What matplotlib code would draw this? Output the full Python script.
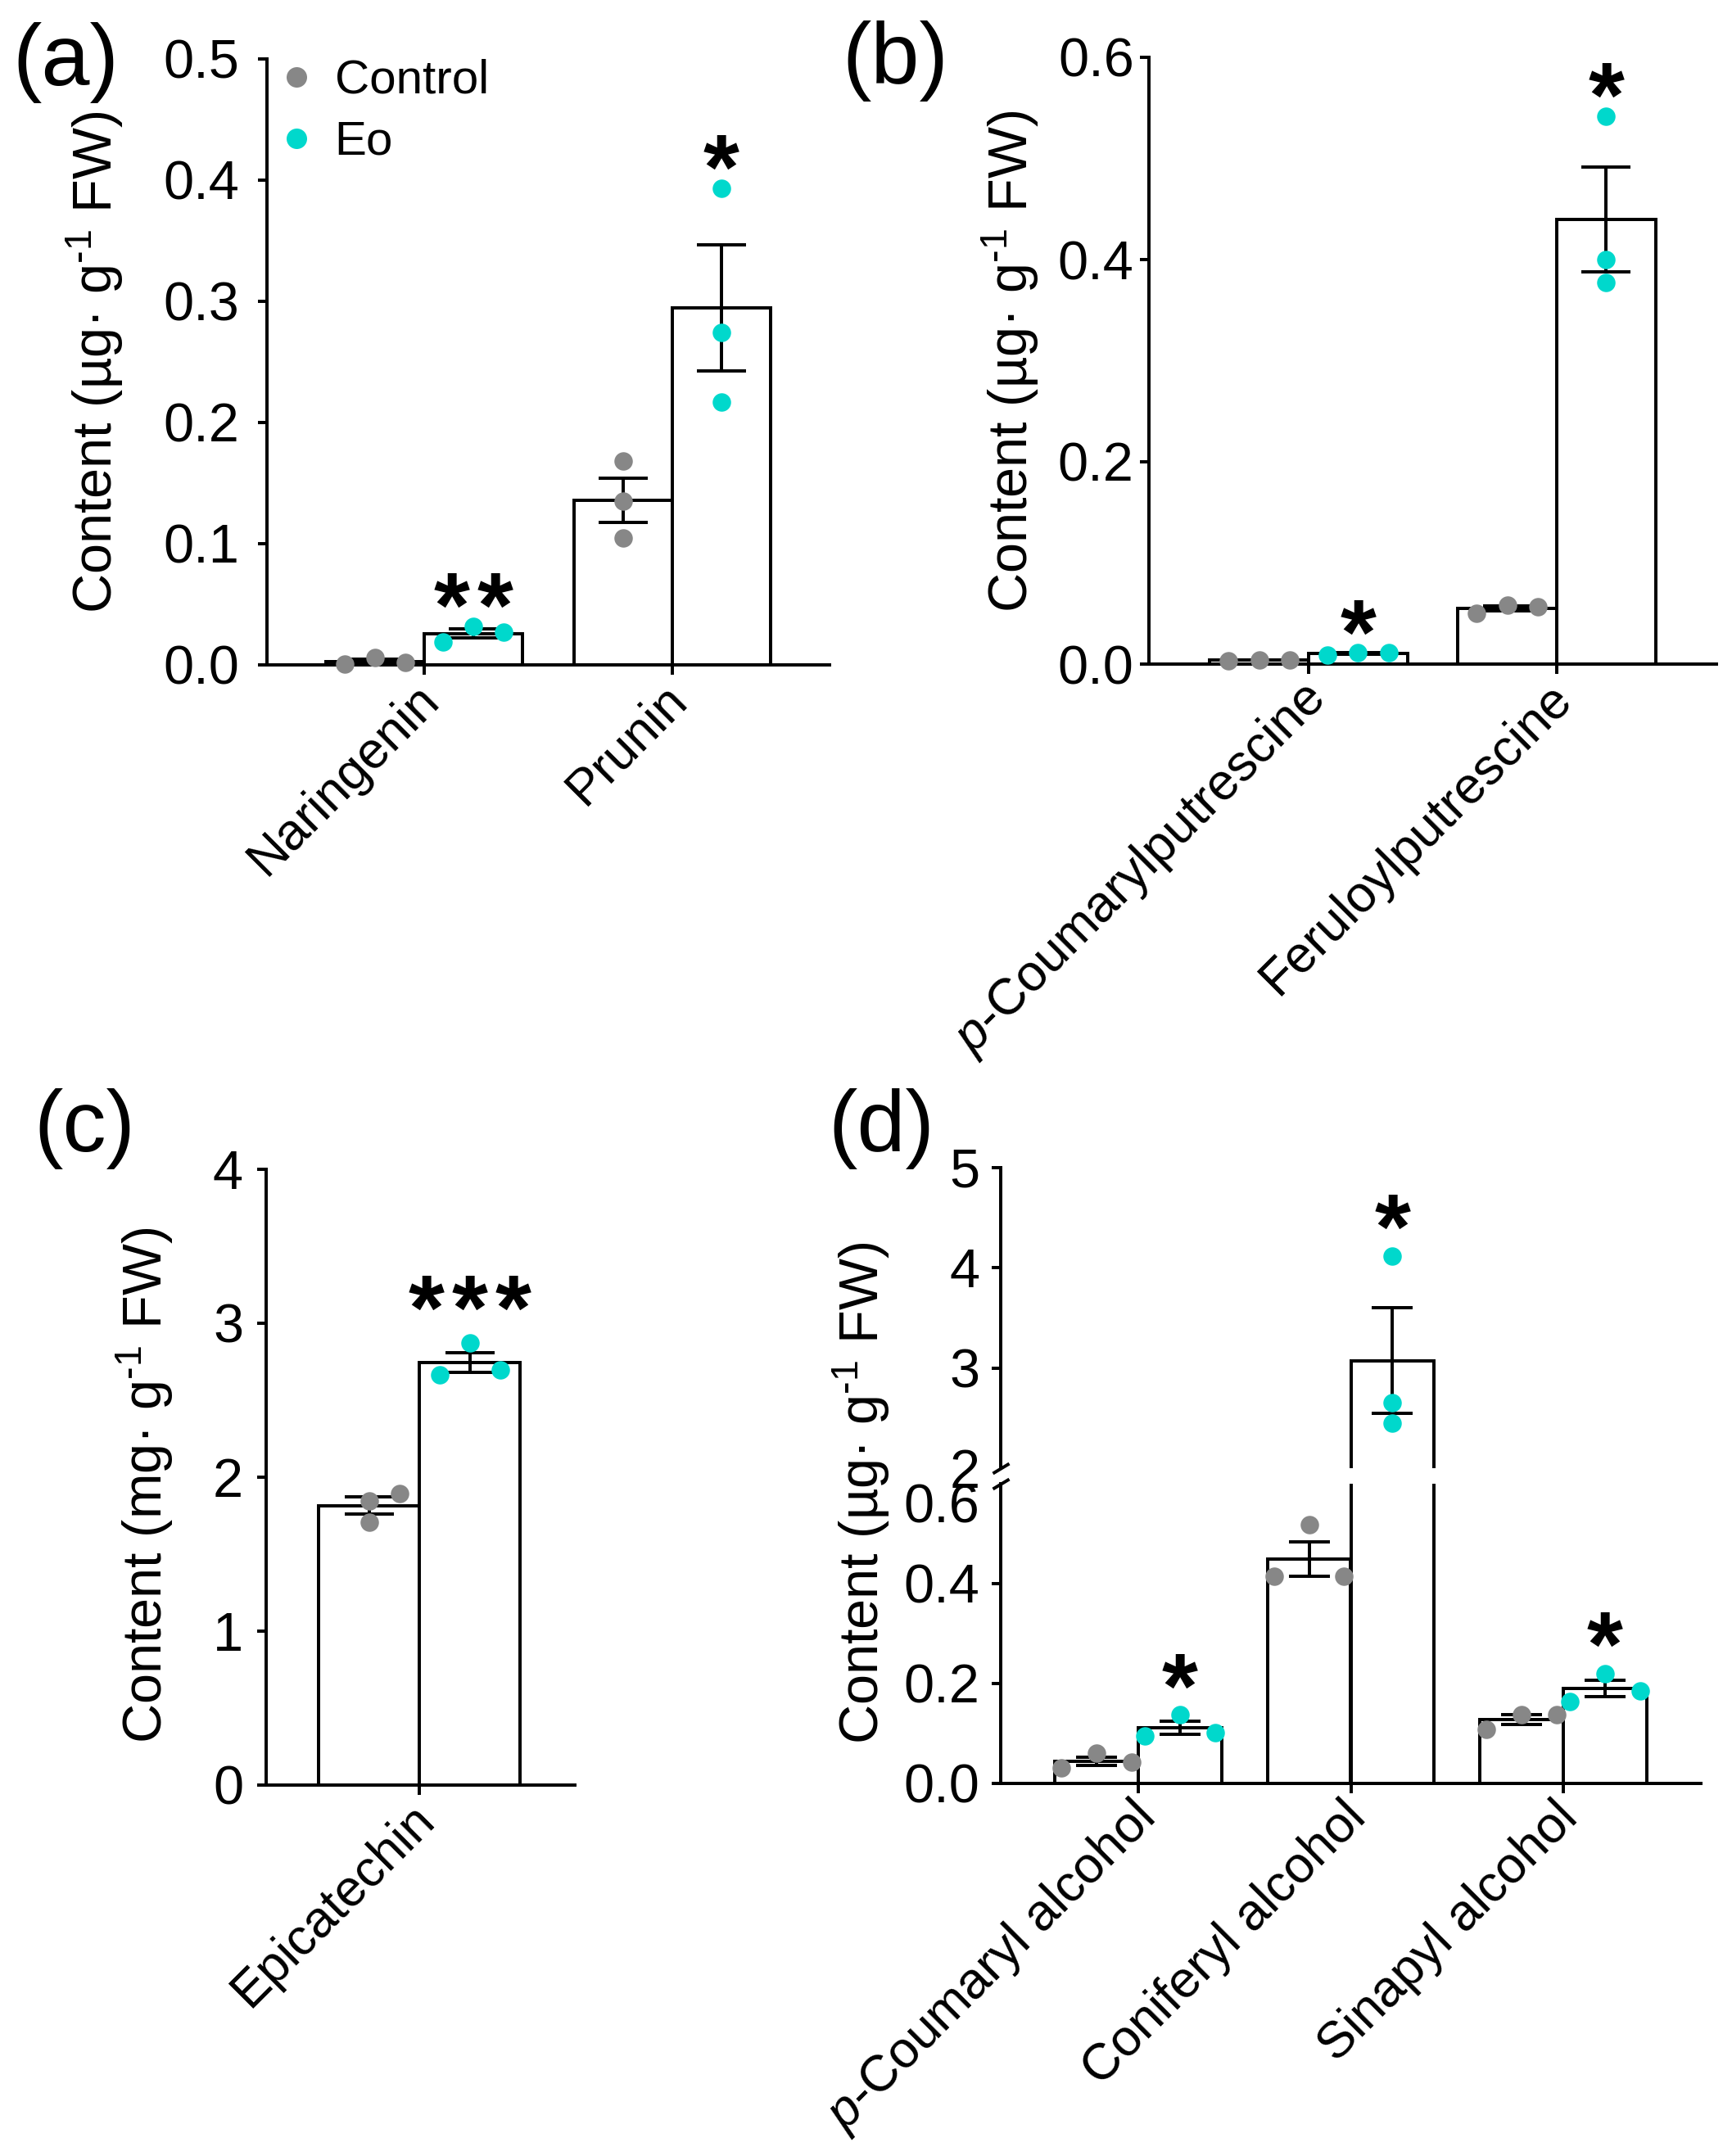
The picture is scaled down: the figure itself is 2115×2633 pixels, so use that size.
import matplotlib
matplotlib.use('Agg')
import matplotlib.pyplot as plt
from matplotlib.lines import Line2D
from matplotlib.transforms import ScaledTranslation
import numpy as np

plt.rcParams['font.family'] = ['Liberation Sans', 'DejaVu Sans']
plt.rcParams['mathtext.fontset'] = 'custom'
plt.rcParams['mathtext.rm'] = 'Liberation Sans'
plt.rcParams['mathtext.it'] = 'Liberation Sans:italic'
plt.rcParams['mathtext.bf'] = 'Liberation Sans:bold'

GREY = '#878787'
CYAN = '#00D8CC'

# ---- data (3 replicates per bar) ----
# (a)
a_names = ['Naringenin', 'Prunin']
a_ctrl = [[0.001, 0.006, 0.002], [0.168, 0.135, 0.105]]
a_eo = [[0.019, 0.032, 0.027], [0.393, 0.274, 0.217]]
a_ctrl_jit = [[-1, 0, 1], [0, 0, 0]]
a_eo_jit = [[-1, 0, 1], [0, 0, 0]]
a_sig = ['**', '*']

# (b)
b_names = [r'$\it{p}$-Coumarylputrescine', 'Feruloylputrescine']
b_ctrl = [[0.0035, 0.004, 0.0042], [0.050, 0.058, 0.057]]
b_eo = [[0.009, 0.011, 0.011], [0.542, 0.400, 0.377]]
b_ctrl_jit = [[-1, 0, 1], [-1, 0, 1]]
b_eo_jit = [[-1, 0, 1], [0, 0, 0]]
b_sig = ['*', '*']

# (c)
c_names = ['Epicatechin']
c_ctrl = [[1.844, 1.708, 1.894]]
c_eo = [[2.667, 2.870, 2.698]]
c_ctrl_jit = [[0, 0, 1]]
c_eo_jit = [[-1, 0, 1]]
c_sig = ['***']

# (d)
d_names = [r'$\it{p}$-Coumaryl alcohol', 'Coniferyl alcohol', 'Sinapyl alcohol']
d_ctrl = [[0.031, 0.060, 0.042], [0.415, 0.518, 0.415], [0.109, 0.137, 0.137]]
d_eo = [[0.095, 0.137, 0.102], [4.118, 2.653, 2.451], [0.164, 0.220, 0.185]]
d_ctrl_jit = [[-1, 0, 1], [-1, 0, 1], [-1, 0, 1]]
d_eo_jit = [[-1, 0, 1], [0, 0, 0], [-1, 0, 1]]
d_sig = ['*', '*', '*']

W, H = 2115, 2633
fig = plt.figure(figsize=(W / 300, H / 300), dpi=300)


def rect(l, r, t, b):
    return [l / W, 1 - b / H, (r - l) / W, (b - t) / H]


def style(ax, yticks, ylim, labels, pad=3.5):
    ax.spines[['top', 'right']].set_visible(False)
    for s in ['left', 'bottom']:
        ax.spines[s].set_linewidth(0.95)
    ax.set_ylim(*ylim)
    ax.set_yticks(yticks)
    ax.set_yticklabels(labels)
    ax.tick_params(axis='y', width=0.95, length=2.7, labelsize=16, pad=pad)
    ax.tick_params(axis='x', width=0.95, length=2.9, labelsize=15, pad=0)
    # nudge the slanted category names a bit to the left, like Prism does
    shift = ScaledTranslation(-2.9 / 72, 0, fig.dpi_scale_trans)
    for lab in ax.get_xticklabels():
        lab.set_transform(lab.get_transform() + shift)


def stars(ax, txt, x, y, dy):
    # Prism spreads the asterisks a little wider than the font does
    n = len(txt)
    for k in range(n):
        ax.annotate('*', xy=(x, y), xytext=((k - (n - 1) / 2) * 12.7, dy),
                    textcoords='offset points', ha='center', va='baseline',
                    fontsize=27, fontweight='bold', zorder=5)


def draw(ax, names, ctrl, eo, cjit, ejit, sig, gap, jit, cap, clip=False,
         star_ax=None, star_dy=-3.1):
    centers = np.arange(len(names)) * gap
    for i, c in enumerate(centers):
        for vals, jj, dx, col in ((ctrl[i], cjit[i], -0.5, GREY), (eo[i], ejit[i], 0.5, CYAN)):
            v = np.array(vals)
            m = v.mean()
            se = v.std(ddof=1) / np.sqrt(len(v))
            ax.bar(c + dx, m, width=1.0, color='white', edgecolor='black',
                   linewidth=0.95, zorder=2)
            ax.errorbar(c + dx, m, yerr=se, fmt='none', ecolor='black',
                        elinewidth=0.95, capsize=cap, capthick=0.95, zorder=3)
            ax.plot(c + dx + jit * np.array(jj), v, 'o', color=col, ms=5.4,
                    mew=0, zorder=4, clip_on=clip)
            if dx > 0 and sig[i]:
                top = max(v.max(), m + se)
                tax = ax if star_ax is None else star_ax(top)
                if tax is ax:
                    stars(ax, sig[i], c + dx, top, star_dy)
    ax.set_xticks(centers)
    ax.set_xticklabels(names, rotation=45, ha='right', va='top',
                       rotation_mode='anchor')
    return centers


ylab_ug = r'Content (µg· g$^{\text{-}1}$ FW)'
ylab_mg = r'Content (mg· g$^{\text{-}1}$ FW)'

# ---- (a) ----
ax_a = fig.add_axes(rect(326, 1013, 72, 812))
cen = draw(ax_a, a_names, a_ctrl, a_eo, a_ctrl_jit, a_eo_jit, a_sig, 2.52, 0.31, 7.2)
ax_a.set_xlim(-1.6, cen[-1] + 1.6)
style(ax_a, [0, 0.1, 0.2, 0.3, 0.4, 0.5], (0, 0.5),
      ['0.0', '0.1', '0.2', '0.3', '0.4', '0.5'], pad=5.5)
handles = [Line2D([], [], ls='', marker='o', ms=6, mew=0, color=GREY),
           Line2D([], [], ls='', marker='o', ms=6, mew=0, color=CYAN)]
ax_a.legend(handles, ['Control', 'Eo'], loc='upper left', bbox_to_anchor=(0.01, 1.0),
            frameon=False, fontsize=14, borderpad=0, borderaxespad=0,
            handlelength=1.0, handletextpad=0.3, labelspacing=0.36)

# ---- (b) ----
ax_b = fig.add_axes(rect(1403, 2096, 70, 811))
cen = draw(ax_b, b_names, b_ctrl, b_eo, b_ctrl_jit, b_eo_jit, b_sig, 2.51, 0.31, 7.2)
ax_b.set_xlim(-1.615, cen[-1] + 1.615)
style(ax_b, [0, 0.2, 0.4, 0.6], (0, 0.6), ['0.0', '0.2', '0.4', '0.6'], pad=1.7)

# ---- (c) ----
ax_c = fig.add_axes(rect(325, 702, 1428, 2180))
cen = draw(ax_c, c_names, c_ctrl, c_eo, c_ctrl_jit, c_eo_jit, c_sig, 2.5, 0.3, 7.2,
           star_dy=1.0)
ax_c.set_xlim(-1.52, 1.54)
style(ax_c, [0, 1, 2, 3, 4], (0, 4), ['0', '1', '2', '3', '4'], pad=4.0)

# ---- (d) with broken axis ----
ax_du = fig.add_axes(rect(1222, 2077, 1426, 1793))
ax_dl = fig.add_axes(rect(1222, 2077, 1812, 2178))


def pick(top):
    return ax_du if top > 2 else ax_dl


for ax in (ax_du, ax_dl):
    cen = draw(ax, d_names, d_ctrl, d_eo, d_ctrl_jit, d_eo_jit, d_sig, 2.55, 0.42, 6.1,
               clip=True, star_ax=pick, star_dy=-0.7)
    ax.set_xlim(-1.65, cen[-1] + 1.65)
style(ax_du, [2, 3, 4, 5], (2, 5), ['2', '3', '4', '5'], pad=3.4)
style(ax_dl, [0, 0.2, 0.4, 0.6], (0, 0.6), ['0.0', '0.2', '0.4', '0.6'], pad=3.4)
ax_du.spines['bottom'].set_visible(False)
ax_du.tick_params(axis='x', bottom=False, labelbottom=False)
ax_du.yaxis.get_major_ticks()[0].tick1line.set_visible(False)
ax_dl.yaxis.get_major_ticks()[-1].tick1line.set_visible(False)
ax_dl.yaxis.get_major_ticks()[-1].label1.set_va('top')

brk = dict(marker=[(-1, -0.6), (1, 0.6)], markersize=4.8, linestyle='none',
           color='k', mec='k', mew=0.95, clip_on=False)
ax_du.plot([0], [0], transform=ax_du.transAxes, **brk)
ax_dl.plot([0], [1], transform=ax_dl.transAxes, **brk)

# ---- axis titles and panel letters ----
for x, y, txt in ((153, 442, ylab_ug), (1271, 441, ylab_ug),
                  (214, 1814, ylab_mg), (1089, 1823, ylab_ug)):
    fig.text(x / W, 1 - y / H, txt, rotation=90, ha='right', va='center', fontsize=16)

for x, y, txt in ((15, 104, '(a)'), (1028, 102, '(b)'),
                  (41, 1406, '(c)'), (1011, 1406, '(d)')):
    fig.text(x / W, 1 - y / H, txt, ha='left', va='baseline', fontsize=25.5)

fig.savefig('out.png', dpi=300)
